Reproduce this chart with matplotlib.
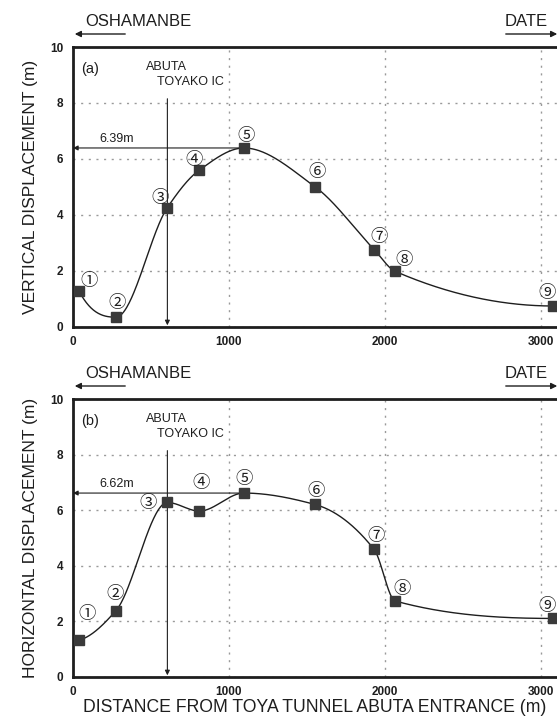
import numpy as np
import matplotlib
matplotlib.use("Agg")
import matplotlib.pyplot as plt

# ---------------- data ----------------
stations = ["①", "②", "③", "④", "⑤", "⑥", "⑦", "⑧", "⑨"]
distance_m = [40, 275, 605, 810, 1095, 1550, 1930, 2065, 3080]
vertical_m = [1.26, 0.34, 4.26, 5.60, 6.39, 5.01, 2.76, 1.98, 0.74]
horizontal_m = [1.32, 2.38, 6.28, 5.97, 6.62, 6.21, 4.59, 2.73, 2.10]
ic_distance = 605
x_ticks = [0, 1000, 2000, 3000]
y_ticks = [0, 2, 4, 6, 8, 10]

W, H = 557, 718
INK = "#1e1e1e"
plt.rcParams['font.family'] = ['Liberation Sans', 'Noto Sans CJK JP', 'DejaVu Sans']


def pchip(x, y, xs):
    x = np.asarray(x, float); y = np.asarray(y, float)
    h = np.diff(x); d = np.diff(y) / h
    n = len(x); m = np.zeros(n)
    for k in range(1, n - 1):
        if d[k - 1] * d[k] > 0:
            w1 = 2 * h[k] + h[k - 1]; w2 = h[k] + 2 * h[k - 1]
            m[k] = (w1 + w2) / (w1 / d[k - 1] + w2 / d[k])
    def endslope(h0, h1, d0, d1):
        s = ((2 * h0 + h1) * d0 - h0 * d1) / (h0 + h1)
        if np.sign(s) != np.sign(d0):
            s = 0
        elif np.sign(d0) != np.sign(d1) and abs(s) > abs(3 * d0):
            s = 3 * d0
        return s
    m[0] = endslope(h[0], h[1], d[0], d[1])
    m[-1] = endslope(h[-1], h[-2], d[-1], d[-2])
    idx = np.clip(np.searchsorted(x, xs) - 1, 0, n - 2)
    t = (xs - x[idx]) / h[idx]
    h00 = 2 * t**3 - 3 * t**2 + 1; h10 = t**3 - 2 * t**2 + t
    h01 = -2 * t**3 + 3 * t**2; h11 = t**3 - t**2
    return h00 * y[idx] + h10 * h[idx] * m[idx] + h01 * y[idx + 1] + h11 * h[idx] * m[idx + 1]


fig = plt.figure(figsize=(W / 100, H / 100), dpi=100)
fig.patch.set_facecolor("white")

x_max = 3200
ax_w = x_max * 0.156 / W
left = 73 / W


def make_panel(top_px, bot_px, values, tag, peak_label, offsets, ylabel):
    ax = fig.add_axes([left, 1 - bot_px / H, ax_w, (bot_px - top_px) / H])
    ax.set_xlim(0, x_max)
    ax.set_ylim(0, 10)
    for s in ax.spines.values():
        s.set_linewidth(2.0)
        s.set_color(INK)
    ax.set_xticks(x_ticks)
    ax.set_yticks(y_ticks)
    ax.tick_params(length=0, labelsize=8.5, colors=INK, pad=7)
    for lab in ax.get_xticklabels() + ax.get_yticklabels():
        lab.set_fontweight('bold')
    ax.grid(True, color="#9a9a9a", linestyle=(0, (1.5, 4)), linewidth=1.0)
    ax.set_axisbelow(True)
    ax.set_ylabel(ylabel, fontsize=12.5, color=INK, labelpad=9)

    xs = np.linspace(distance_m[0], distance_m[-1], 600)
    ax.plot(xs, pchip(distance_m, values, xs), color=INK, lw=1.0, zorder=3)
    ax.plot(distance_m, values, 's', color="#3a3a3a", ms=7, zorder=4, clip_on=False)

    for lab, xv, yv, off in zip(stations, distance_m, values, offsets):
        ax.annotate(lab, (xv, yv), xytext=off, textcoords='offset pixels',
                    ha='center', va='center', fontsize=12.5, color=INK,
                    family=['Noto Sans CJK JP', 'DejaVu Sans'],
                    annotation_clip=False, zorder=5)

    ax.text(0.017, 0.92, tag, transform=ax.transAxes, fontsize=10.5, color=INK,
            ha='left', va='center')
    ax.text(ic_distance - 140, 9.3, "ABUTA", fontsize=9, color=INK, ha='left', va='center')
    ax.text(ic_distance - 65, 8.75, "TOYAKO IC", fontsize=9, color=INK, ha='left', va='center')
    ax.annotate("", xy=(ic_distance, 0.05), xytext=(ic_distance, 8.15),
                arrowprops=dict(arrowstyle='-|>', color=INK, lw=0.8,
                                mutation_scale=7, shrinkA=0, shrinkB=0))
    peak = max(values)
    px = distance_m[values.index(peak)]
    ax.annotate("", xy=(0, peak), xytext=(px, peak),
                arrowprops=dict(arrowstyle='-|>', color=INK, lw=0.8,
                                mutation_scale=7, shrinkA=0, shrinkB=0))
    ax.text(280, peak + 0.12, peak_label, fontsize=9, color=INK,
            ha='center', va='bottom')
    return ax


def direction_labels(text_y, arrow_y):
    fig.text(85 / W, 1 - text_y / H, "OSHAMANBE", fontsize=12, color=INK,
             ha='left', va='center')
    fig.text(548 / W, 1 - text_y / H, "DATE", fontsize=12, color=INK,
             ha='right', va='center')
    fig.add_artist(matplotlib.patches.FancyArrowPatch(
        (128 / W, 1 - arrow_y / H), (72 / W, 1 - arrow_y / H),
        transform=fig.transFigure, arrowstyle='-|>', mutation_scale=9,
        color=INK, lw=1.0))
    fig.add_artist(matplotlib.patches.FancyArrowPatch(
        (503 / W, 1 - arrow_y / H), (560 / W, 1 - arrow_y / H),
        transform=fig.transFigure, arrowstyle='-|>', mutation_scale=9,
        color=INK, lw=1.0))


offs_a = [(10, 10), (1, 14), (-7, 10), (-5, 10), (2, 12), (2, 15), (5, 13), (9, 11), (-6, 13)]
offs_b = [(8, 26), (-1, 17), (-19, -1), (2, 28), (0, 14), (1, 13), (2, 13), (7, 12), (-6, 12)]

ax_a = make_panel(47, 326.7, vertical_m, "(a)", "6.39m", offs_a,
                  "VERTICAL DISPLACEMENT (m)")
ax_b = make_panel(399.3, 676.7, horizontal_m, "(b)", "6.62m", offs_b,
                  "HORIZONTAL DISPLACEMENT (m)")
fig.text(315 / W, 1 - 707 / H, "DISTANCE FROM TOYA TUNNEL ABUTA ENTRANCE (m)",
         fontsize=12.7, color=INK, ha='center', va='center')

direction_labels(21, 34)
direction_labels(374, 386)

fig.savefig("out.png", dpi=100)
